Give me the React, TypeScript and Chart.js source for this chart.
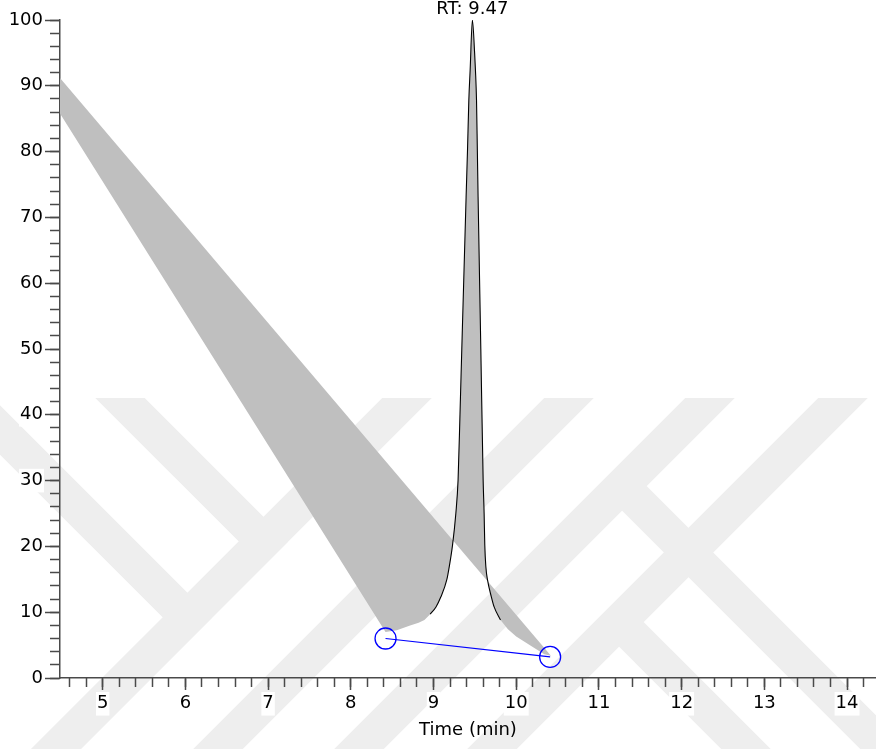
import React, { useEffect, useRef } from 'react';
import { Chart, registerables } from 'chart.js';

Chart.register(...registerables);

// ---- data ----
const signalTime = [
  4.484, 8.42, 8.556, 8.717, 8.82, 8.89, 8.96, 9.03, 9.088, 9.16, 9.19, 9.23, 9.27, 9.297, 9.32,
  9.342, 9.394, 9.411, 9.427, 9.443, 9.47, 9.497, 9.507, 9.52, 9.53, 9.539, 9.572, 9.6, 9.612,
  9.62, 9.633, 9.653, 9.7, 9.733, 9.81, 9.9, 10.0, 10.1, 10.2, 10.34, 10.42,
];
const signalIntensity = [
  85.8, 7.0, 7.25, 7.98, 8.4, 8.8, 9.7, 10.8, 12.3, 14.9, 16.9, 20.2, 25.0, 30.1, 40,
  50, 73.1, 80.2, 87.8, 92.4, 100, 95, 92.4, 87.8, 80.2, 73.1, 50, 30.1, 25.0,
  20.2, 16.9, 14.9, 12.3, 10.8, 8.8, 7.4, 6.3, 5.5, 4.7, 3.6, 3.4,
];
// upper edge of the shaded area
const edgeTime = [4.484, 10.42];
const edgeIntensity = [91.2, 3.4];
// integration baseline (blue)
const baselineTime = [8.42, 10.41];
const baselineIntensity = [6.0, 3.2];

const xTitle = 'Time (min)';
const X_MIN = 4.484;
const X_MAX = 14.35;
const Y_MIN = 0;
const Y_MAX = 100;
const X_MAJOR = 1;
const X_MINOR = 0.2;
const Y_MAJOR = 10;
const Y_MINOR = 2;

const FONT = "'DejaVu Sans', 'Liberation Sans', sans-serif";
const AXIS_COLOR = '#4a4a4a';
const FILL_GRAY = '#bfbfbf';

// background watermark geometry (decoration only)
const WM_TOP = 398;
const WM_SLASH = [805, 967, 1108, 1241]; // "/" bands: x + y = k
const WM_BACK_LEFT = [430, 278]; // "\" bands ending on first "/" band: y - x = c
const WM_LEGS: [number, number][] = [[1108, -136], [1241, 3]]; // "\" legs starting on "/" band k

const pts = (xs: number[], ys: number[]) => xs.map((x, i) => ({ x, y: ys[i] }));

const watermarkPlugin = {
  id: 'watermark',
  beforeDraw(chart: any) {
    const ctx = chart.ctx as CanvasRenderingContext2D;
    const W = chart.width;
    const H = chart.height;
    ctx.save();
    ctx.fillStyle = '#ffffff';
    ctx.fillRect(0, 0, W, H);
    ctx.beginPath();
    ctx.rect(0, WM_TOP, W, H - WM_TOP);
    ctx.clip();
    ctx.strokeStyle = '#eeeeee';
    ctx.lineWidth = 35;
    ctx.lineCap = 'butt';
    ctx.lineJoin = 'miter';
    ctx.miterLimit = 10;
    const seg = (p: number[][]) => {
      ctx.beginPath();
      ctx.moveTo(p[0][0], p[0][1]);
      for (let i = 1; i < p.length; i++) ctx.lineTo(p[i][0], p[i][1]);
      ctx.stroke();
    };
    for (const k of WM_SLASH) seg([[k - 200, 200], [k - 1000, 1000]]);
    const kC = WM_SLASH[0];
    for (const c of WM_BACK_LEFT) {
      const px = (kC - c) / 2;
      const py = (kC + c) / 2;
      seg([[px - 500, py - 500], [px, py], [px - 400, py + 400]]);
    }
    for (const [k, c] of WM_LEGS) {
      const px = (k - c) / 2;
      const py = (k + c) / 2;
      seg([[px, py], [px + 500, py + 500]]);
    }
    ctx.restore();
  },
};

const rtLabelPlugin = {
  id: 'rtLabel',
  afterDatasetsDraw(chart: any) {
    let imax = 0;
    signalIntensity.forEach((v, i) => {
      if (v > signalIntensity[imax]) imax = i;
    });
    const x = chart.scales.x.getPixelForValue(signalTime[imax]);
    const y = chart.scales.y.getPixelForValue(signalIntensity[imax]);
    const ctx = chart.ctx as CanvasRenderingContext2D;
    ctx.save();
    ctx.font = `18px ${FONT}`;
    ctx.fillStyle = '#000';
    ctx.textAlign = 'center';
    ctx.textBaseline = 'middle';
    ctx.fillText(`RT: ${signalTime[imax].toFixed(2)}`, x, y - 11);
    ctx.restore();
  },
};

export default function App() {
  const ref = useRef<HTMLCanvasElement | null>(null);

  useEffect(() => {
    document.body.style.margin = '0';
    const canvas = ref.current;
    if (!canvas) return;

    const signal = pts(signalTime, signalIntensity);
    const outline = signal.filter((p) => p.x >= 8.95 && p.x <= 9.82);

    const chart = new Chart(canvas, {
      type: 'line',
      data: {
        datasets: [
          {
            label: 'signal',
            data: signal,
            borderColor: 'rgba(0,0,0,0)',
            borderWidth: 0,
            backgroundColor: FILL_GRAY,
            pointRadius: 0,
            tension: 0,
            fill: { target: 1, above: FILL_GRAY, below: FILL_GRAY },
            order: 3,
          },
          {
            label: 'edge',
            data: pts(edgeTime, edgeIntensity),
            borderColor: 'rgba(0,0,0,0)',
            borderWidth: 0,
            pointRadius: 0,
            fill: false,
            order: 4,
          },
          {
            label: 'peak',
            data: outline,
            borderColor: '#000000',
            borderWidth: 1.1,
            pointRadius: 0,
            cubicInterpolationMode: 'monotone',
            fill: false,
            order: 1,
          },
          {
            label: 'baseline',
            data: pts(baselineTime, baselineIntensity),
            borderColor: '#0000ff',
            borderWidth: 1.2,
            pointRadius: 10.5,
            pointBorderColor: '#0000ff',
            pointBorderWidth: 1.3,
            pointBackgroundColor: 'rgba(0,0,0,0)',
            pointStyle: 'circle',
            fill: false,
            order: 0,
          },
        ],
      },
      options: {
        responsive: false,
        maintainAspectRatio: false,
        animation: false,
        events: [],
        layout: { autoPadding: false, padding: { top: 20, left: 0, right: 0, bottom: 0 } },
        plugins: {
          legend: { display: false },
          tooltip: { enabled: false },
          title: { display: false },
        },
        scales: {
          x: {
            type: 'linear',
            position: 'bottom',
            min: X_MIN,
            max: X_MAX,
            afterFit: (s: any) => {
              s.height = 71;
              s.paddingLeft = 0;
              s.paddingRight = 0;
            },
            ticks: {
              stepSize: X_MAJOR,
              includeBounds: false,
              color: '#000',
              font: { family: FONT, size: 18 },
              padding: 3,
              maxRotation: 0,
              autoSkip: false,
              showLabelBackdrop: true,
              backdropColor: '#ffffff',
              backdropPadding: 1,
            },
            grid: {
              drawOnChartArea: false,
              drawTicks: true,
              tickLength: 12,
              tickColor: AXIS_COLOR,
              tickWidth: 1.5,
            },
            border: { display: true, color: AXIS_COLOR, width: 1.5 },
            title: {
              display: true,
              text: xTitle,
              color: '#000',
              font: { family: FONT, size: 18 },
              padding: { top: 0, bottom: 8 },
            },
          },
          xMinor: {
            type: 'linear',
            position: { y: 0 },
            min: X_MIN,
            max: X_MAX,
            afterFit: (s: any) => {
              s.paddingLeft = 0;
              s.paddingRight = 0;
            },
            ticks: { stepSize: X_MINOR, includeBounds: false, display: false, autoSkip: false },
            grid: {
              drawOnChartArea: false,
              drawTicks: true,
              tickLength: 9,
              tickColor: AXIS_COLOR,
              tickWidth: 1.5,
            },
            border: { display: false },
          },
          y: {
            type: 'linear',
            position: 'left',
            min: Y_MIN,
            max: Y_MAX,
            afterFit: (s: any) => {
              s.width = 60;
            },
            ticks: {
              stepSize: Y_MAJOR,
              color: '#000',
              font: { family: FONT, size: 18 },
              padding: 2,
              autoSkip: false,
              showLabelBackdrop: true,
              backdropColor: '#ffffff',
              backdropPadding: 1,
            },
            grid: {
              drawOnChartArea: false,
              drawTicks: true,
              tickLength: 15,
              tickColor: AXIS_COLOR,
              tickWidth: 1.5,
            },
            border: { display: true, color: AXIS_COLOR, width: 1.5 },
          },
          yMinor: {
            type: 'linear',
            position: { x: X_MIN },
            min: Y_MIN,
            max: Y_MAX,
            ticks: { stepSize: Y_MINOR, display: false, autoSkip: false },
            grid: {
              drawOnChartArea: false,
              drawTicks: true,
              tickLength: 10,
              tickColor: AXIS_COLOR,
              tickWidth: 1.5,
            },
            border: { display: false },
          },
        },
      },
      plugins: [watermarkPlugin, rtLabelPlugin],
    } as any);

    return () => chart.destroy();
  }, []);

  return (
    <div style={{ width: 876, height: 749 }}>
      <canvas ref={ref} width={876} height={749} style={{ display: 'block' }} />
    </div>
  );
}
